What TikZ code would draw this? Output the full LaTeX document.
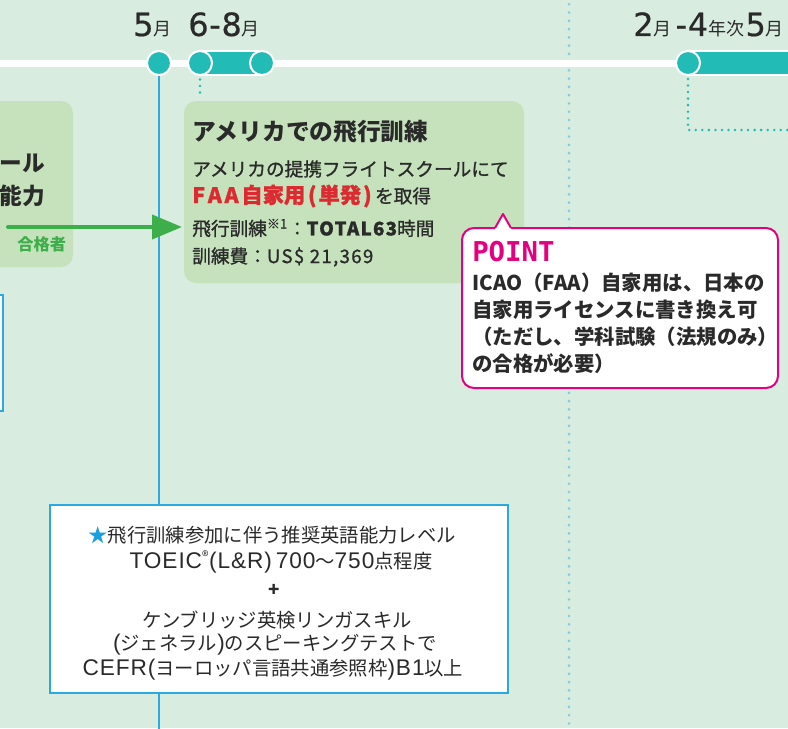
\documentclass[tikz,border=0pt]{standalone}
\usepackage{fontspec}
\setmainfont{Noto Sans CJK JP}
\newfontfamily\jpmed[FakeBold=1.0]{Noto Sans CJK JP}
\newfontfamily\monofnt{DejaVu Sans Mono}
\newfontfamily\latf[LetterSpace=4]{Liberation Sans}
\newfontfamily\digf[FakeBold=0.5]{DejaVu Sans}
\usetikzlibrary{arrows.meta}
\definecolor{bg}{HTML}{D8ECDF}
\definecolor{boxgreen}{HTML}{C5E2BC}
\definecolor{tealc}{HTML}{22BBB5}
\definecolor{ink}{HTML}{2A2A2A}
\definecolor{redc}{HTML}{DC2A30}
\definecolor{magc}{HTML}{E4007F}
\definecolor{arrowg}{HTML}{3DAF4A}
\definecolor{lineblue}{HTML}{2CA9E1}
\definecolor{dotblue}{HTML}{7ACDE9}
\definecolor{starblue}{HTML}{1A9FE0}
\newcommand\pxu{0.75pt}
\newcommand\numf{\digf\fontsize{24}{24}\selectfont}
\newcommand\tsf{\rmfamily\fontsize{13.5}{14}\selectfont}
\newcommand\latx[1]{{\latf\fontsize{17}{16}\selectfont #1}}
\newcommand\wide[1]{{\addfontfeature{LetterSpace=7}#1}}
\begin{document}
\begin{tikzpicture}[x=0.75pt,y=-0.75pt,
  txt/.style={inner sep=0pt, text=ink, anchor=west},
  dot/.style={circle, fill=tealc, draw=white, line width=1.5pt, minimum size=24*\pxu, inner sep=0pt},
  bar/.style={fill=tealc, draw=white, line width=1.5pt},
  gbox/.style={fill=boxgreen, rounded corners=9pt, inner sep=0pt},
  wbox/.style={fill=white, draw=lineblue, line width=0.8pt, inner sep=0pt},
  tealdots/.style={draw=tealc, line width=2.1pt, line cap=round, dash pattern=on 0pt off 4.9pt},
  bluedots/.style={draw=dotblue, line width=2.2pt, line cap=round, dash pattern=on 0pt off 6.2pt},
  bodyf/.style={font=\jpmed\fontsize{14}{14}\selectfont},
  pointf/.style={font=\bfseries\fontsize{15.3}{16}\selectfont},
  bottomf/.style={font=\fontsize{14.5}{14}\selectfont, text=ink, inner sep=0pt}
]
\path[use as bounding box, fill=bg] (0,0) rectangle (788,728);
\clip (0,0) rectangle (788,728);

% guide lines
\coordinate (gtop) at (569,-4);
\coordinate (gbot) at (569,732);
\draw[bluedots] (gtop) -- (gbot);

% boxes
\node[wbox, minimum width=30*\pxu, minimum height=116*\pxu] (lbox) at (-12,353) {};
\node[gbox, minimum width=110*\pxu, minimum height=166*\pxu] (lgbox) at (18,184) {};
\node[gbox, minimum width=340*\pxu, minimum height=182*\pxu] (mainbox) at (354,192) {};

% vertical line from 5 month
\node[dot] (c5) at (159,63) {};
\coordinate (v5end) at (159,732);
\draw[lineblue, line width=1.1pt] (c5.south) -- (v5end);

% timeline
\coordinate (tl0) at (-5,63);
\coordinate (tl1) at (795,63);
\draw[white, line width=5.25pt] (tl0) -- (tl1);
\node[dot] (c5) at (159,63) {};
\draw[bar] (200,51) rectangle (262,75);
\node[dot] (c6) at (200,63) {};
\node[dot] (c8) at (262,63) {};
\draw[bar] (688,51) rectangle (800,75);
\node[dot] (c2) at (688,63) {};

% teal dotted connectors
\coordinate (d6end) at (200,98);
\draw[tealdots] ([yshift=-3.5*\pxu]c6.south) -- (d6end);
\coordinate (d2turn) at (688,130);
\coordinate (d2end) at (792,130);
\draw[tealdots] ([yshift=-3*\pxu]c2.south) -- (d2turn) -- (d2end);

% top labels
\node[txt, anchor=base west] (l5) at (133,36) {\numf 5\tsf 月};
\node[txt, anchor=base west] (l68) at (188,36) {\numf 6\kern0.5pt-\kern0.5pt8\tsf 月};
\node[txt, anchor=base west] (l24) at (633,36) {\numf 2\tsf 月\kern3pt\numf -\kern0.5pt4\tsf 年次\kern1pt\numf 5\tsf 月};

% left box text
\node[txt, anchor=east, font=\bfseries\fontsize{17}{17}\selectfont] (lt1) at (45,163) {ール};
\node[txt, anchor=east, font=\bfseries\fontsize{17}{17}\selectfont] (lt2) at (45,196) {能力};
\node[txt, text=arrowg, font=\bfseries\fontsize{12.2}{12}\selectfont] (pass) at (17,244) {合格者};

% arrow
\coordinate (atail) at (8,227);
\coordinate (atip) at (182,227);
\draw[arrowg, line width=3pt, line cap=round, -{Triangle[length=22.5pt,width=18pt]}] (atail) -- (atip);

% main box text
\node[txt, font=\bfseries\fontsize{17.8}{18}\selectfont] (mt) at (192,132) {アメリカでの飛行訓練};
\node[txt, bodyf] (m1) at (192,169) {アメリカの提携フライトスクールにて};
\node[txt, bodyf] (m2) at (192,196) {{\color{redc}\bfseries\fontsize{16}{16}\selectfont F\kern2pt A\kern2pt A\kern2pt 自家用\kern2pt(\kern1.5pt 単発\kern1.5pt)}\kern2.5pt を取得};
\node[txt, bodyf] (m3) at (192,228) {飛行訓練\textsuperscript{※1}：{\bfseries\wide{TOTAL63}}時間};
\node[txt, bodyf] (m4) at (192,257) {訓練費：\wide{US\$ 21,369}};

% POINT box
\node[fill=white, draw=magc, line width=1.5pt, rounded corners=9pt, minimum width=316*\pxu, minimum height=160*\pxu, inner sep=0pt] (pbox) at (620,308) {};
\coordinate (pa) at (495,228);
\coordinate (pb) at (503,214);
\coordinate (pc) at (511,228);
\fill[white] (495,228) -- (503,214) -- (511,228) -- (511,231) -- (495,231) -- cycle;
\draw[magc, line width=1.5pt, line join=round] (pa) -- (pb) -- (pc);
\node[txt, text=magc, font=\monofnt\bfseries\fontsize{20.5}{20}\selectfont] (ptitle) at (472,252) {POINT};
\node[txt, pointf] (p1) at (472,283) {ICAO（FAA）自家用は、日本の};
\node[txt, pointf] (p2) at (472,310) {自家用ライセンスに書き換え可};
\node[txt, pointf] (p3) at (472,337) {（ただし、学科試験（法規のみ）};
\node[txt, pointf] (p4) at (472,364) {の合格が必要）};

% bottom box
\node[wbox, minimum width=458*\pxu, minimum height=188*\pxu] (bbox) at (279,599) {};
\node[bottomf] (b1) at (272,535) {{\color{starblue}★}飛行訓練参加に伴う推奨英語能力レベル};
\node[bottomf] (b2) at (281,562) {\latx{TOEIC}\textsuperscript{®}\latx{(L\&R)\,700}〜\latx{750}点程度};
\node[bottomf, font=\bfseries\fontsize{14}{14}\selectfont] (b3) at (274,590) {+};
\node[bottomf] (b4) at (277,620) {ケンブリッジ英検リンガスキル};
\node[bottomf] (b5) at (275,645) {\latx{(}ジェネラル\latx{)}のスピーキングテストで};
\node[bottomf] (b6) at (273,670) {\latx{CEFR(}ヨーロッパ言語共通参照枠\latx{)B1}以上};
\end{tikzpicture}
\end{document}
